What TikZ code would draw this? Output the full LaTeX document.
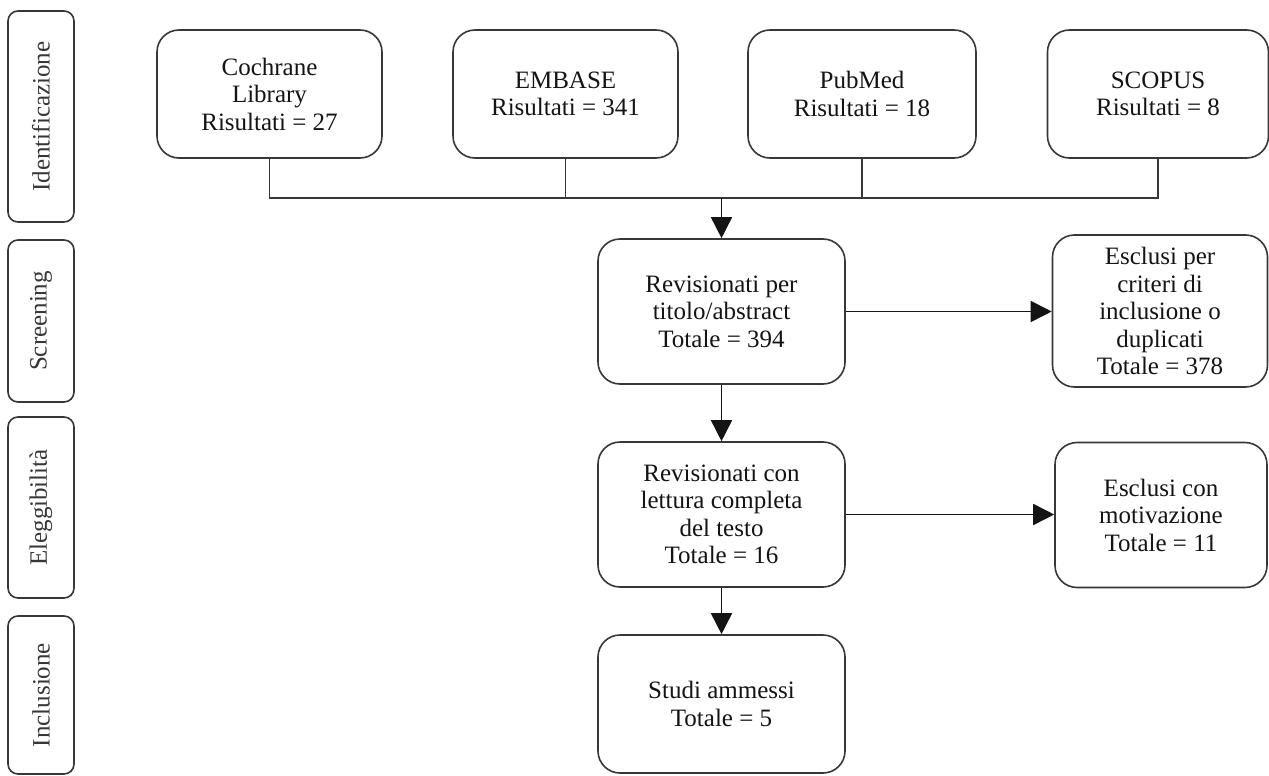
\documentclass[tikz,border=0pt]{standalone}
\usepackage{fontspec}
\setmainfont{Liberation Serif}
\usepackage{xcolor}
\definecolor{edgegray}{RGB}{55, 55, 55}
\definecolor{inkblack}{RGB}{20, 20, 20}
\usepackage{tikz}
\usetikzlibrary{arrows.meta, positioning, calc}

\begin{document}
\begin{tikzpicture}[x=1pt, y=-1pt, >={Triangle[length=21pt, width=21pt]},
    phase/.style={draw=edgegray, line width=1.6pt, rounded corners=10pt, rotate=90, minimum height=66pt,
        inner sep=0pt, font=\fontsize{25}{28}\selectfont, text=inkblack!85},
    source/.style={draw=edgegray, line width=1.6pt, rounded corners=22pt, minimum height=128pt, align=center,
        inner sep=0pt, font=\fontsize{25}{27.5}\selectfont, text=inkblack},
    stage/.style={source, minimum width=247pt, minimum height=145pt},
    excl/.style={source},
    link/.style={draw=edgegray, line width=1.6pt},
    flow/.style={link, draw=inkblack, ->}]
    \useasboundingbox[fill=white] (0,0) rectangle (1269,776);
    \node[phase, minimum width=211pt] (ident) at (41,116.5) {Identificazione};
    \node[phase, minimum width=162pt] (screen) at (41,321) {Screening};
    \node[phase, minimum width=181pt] (elig) at (41,507.5) {Eleggibilità};
    \node[phase, minimum width=158pt] (incl) at (41,695) {Inclusione};
    \node[source, minimum width=225pt] (cochrane) at (269.5,94) {Cochrane\\Library\\Risultati = 27};
    \node[source, minimum width=225pt] (embase) at (565.5,94) {EMBASE\\Risultati = 341};
    \node[source, minimum width=228pt] (pubmed) at (862,94) {PubMed\\Risultati = 18};
    \node[source, minimum width=221pt] (scopus) at (1158,94) {SCOPUS\\Risultati = 8};
    \node[stage] (titoli) at (721.5,311.5) {Revisionati per\\titolo/abstract\\Totale = 394};
    \node[excl, minimum width=215pt, minimum height=152pt] (dupl) at (1160,311) {Esclusi per\\criteri di\\inclusione o\\duplicati\\Totale = 378};
    \node[stage] (testo) at (721.5,514.5) {Revisionati con\\lettura completa\\del testo\\Totale = 16};
    \node[excl, minimum width=212pt, minimum height=145pt] (motiv) at (1161,515) {Esclusi con\\motivazione\\Totale = 11};
    \node[stage, minimum height=138pt] (studi) at (721.5,704) {Studi ammessi\\Totale = 5};
    \coordinate (bus) at (721.5,198);
    \draw[link] (cochrane.south) |- (bus) -| (scopus.south);
    \draw[link] (embase.south) -- (embase.south |- bus);
    \draw[link] (pubmed.south) -- (pubmed.south |- bus);
    \draw[flow] (bus) -- (titoli.north);
    \draw[flow] (titoli.east) -- (titoli.east -| dupl.west);
    \draw[flow] (titoli.south) -- (testo.north);
    \draw[flow] (testo.east) -- (testo.east -| motiv.west);
    \draw[flow] (testo.south) -- (studi.north);
\end{tikzpicture}
\end{document}
